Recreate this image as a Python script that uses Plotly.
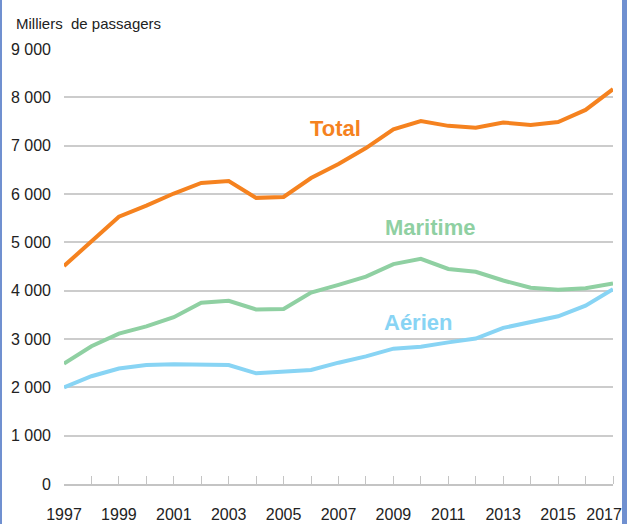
import plotly.graph_objects as go

years = list(range(1997, 2018))
total = [4510, 5030, 5530, 5760, 6010, 6230, 6270, 5920, 5940, 6330, 6620,
         6950, 7340, 7510, 7410, 7370, 7480, 7430, 7490, 7740, 8170]
maritime = [2490, 2850, 3110, 3260, 3450, 3750, 3790, 3610, 3620, 3960, 4120,
            4290, 4550, 4660, 4450, 4390, 4210, 4060, 4020, 4050, 4150]
aerien = [2000, 2230, 2390, 2460, 2480, 2460, 2460, 2290, 2320, 2360, 2510,
          2640, 2800, 2840, 2930, 3010, 3230, 3360, 3470, 3690, 4030]

series_names = ["Total", "Maritime", "Aérien"]
colors = ["#F5821F", "#8FD0A2", "#88D4F4"]
label_pos = [(2006.9, 7360), (2010.35, 5310), (2009.9, 3350)]

y_ticks = [0, 1000, 2000, 3000, 4000, 5000, 6000, 7000, 8000, 9000]
y_text = ["0", "1 000", "2 000", "3 000", "4 000", "5 000", "6 000", "7 000", "8 000", "9 000"]
x_label_years = list(range(1997, 2018, 2))
x_label_text = [str(y) for y in x_label_years]
x_label_text[-1] = x_label_text[-1] + "\u00a0\u00a0\u00a0\u00a0"  # nudge last label left, as in the reference

W, H = 627, 524
ML, MR, MT, MB = 64, 14, 49, 40

fig = go.Figure()
for name, vals, col in zip(series_names, [total, maritime, aerien], colors):
    fig.add_trace(go.Scatter(x=years, y=vals, mode="lines", name=name,
                             line=dict(color=col, width=4), showlegend=False,
                             hoverinfo="skip"))

for name, col, (lx, ly) in zip(series_names, colors, label_pos):
    fig.add_annotation(x=lx, y=ly, text="<b>%s</b>" % name, showarrow=False,
                       font=dict(family="Liberation Sans, Arial", size=22, color=col),
                       xanchor="center", yanchor="middle")

pw = W - ML - MR
ph = H - MT - MB
fig.add_annotation(xref="paper", yref="paper", x=(14 - ML) / pw, y=1 + (MT - 23) / ph,
                   text="Milliers\u00a0 de passagers", showarrow=False, xanchor="left",
                   yanchor="middle",
                   font=dict(family="Liberation Sans, Arial", size=15, color="#222"))

# borders
fig.add_shape(type="rect", xref="paper", yref="paper",
              x0=(0 - ML) / pw, x1=(2 - ML) / pw, y0=-MB / ph, y1=1 + MT / ph,
              fillcolor="#7090D0", line=dict(width=0), layer="above")
fig.add_shape(type="rect", xref="paper", yref="paper",
              x0=(622 - ML) / pw, x1=(W + 2 - ML) / pw, y0=-MB / ph, y1=1 + MT / ph,
              fillcolor="#7090D0", line=dict(width=0), layer="above")

fig.update_layout(
    width=W, height=H, autosize=False,
    margin=dict(l=ML, r=MR, t=MT, b=MB, pad=0, autoexpand=False),
    paper_bgcolor="white", plot_bgcolor="white",
    font=dict(family="Liberation Sans, Arial", size=16, color="#222"),
    xaxis=dict(range=[1997, 2017], tickmode="array", tickvals=x_label_years,
               ticktext=x_label_text, ticks="", showgrid=False,
               showline=True, linecolor="#C4C4C4", linewidth=2, zeroline=False,
               ticklabelstandoff=15, automargin=False, ticklabeloverflow="allow",
               minor=dict(tickmode="array", tickvals=years[1:], ticks="inside",
                          ticklen=8, tickcolor="#C4C4C4", tickwidth=1, showgrid=False)),
    yaxis=dict(range=[0, 9000], tickmode="array", tickvals=y_ticks, ticktext=y_text,
               showgrid=True, gridcolor="#CCCCCC", gridwidth=1.5, zeroline=False,
               ticks="", ticklabelstandoff=12, automargin=False),
)

fig.write_html("out.html", config={"displayModeBar": False, "responsive": False},
               post_script="document.body.style.margin='0px';document.body.style.overflow='hidden';")
